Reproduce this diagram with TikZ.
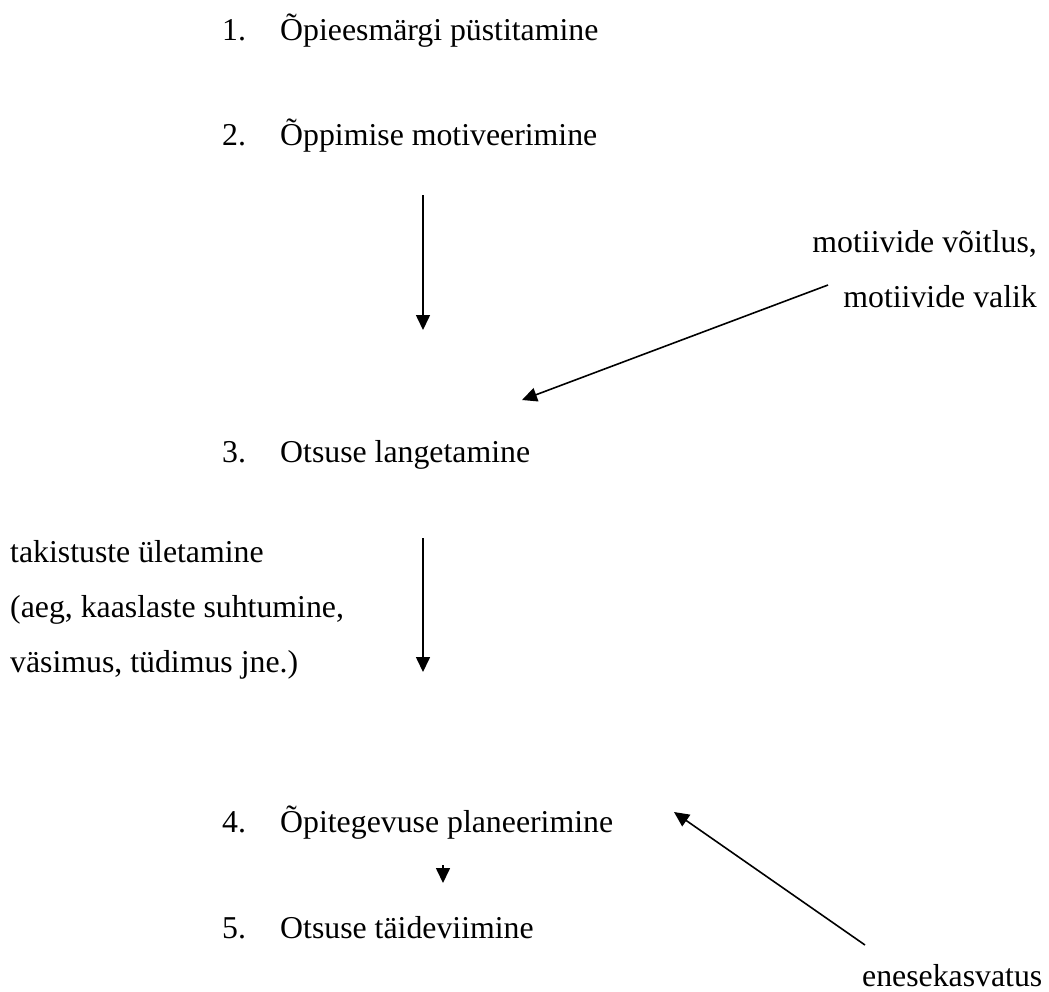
\documentclass[tikz,border=0pt]{standalone}
\usepackage{fontspec}
\setmainfont{Liberation Serif}
\usetikzlibrary{arrows.meta}

\begin{document}
\begin{tikzpicture}[x=1pt,y=-1pt,>={Triangle[length=15pt,width=14pt]},
  item/.style={anchor=base west,inner sep=0pt,font=\fontsize{31.8}{55}\selectfont},
  note/.style={inner sep=0pt,font=\fontsize{31.8}{55}\selectfont},
  arr/.style={->,line width=1.6pt}]

\useasboundingbox (0,0) rectangle (1049,991);

%--------------------
% sammud
%--------------------
\node[item] (n1) at (222,40) {1.};
\node[item] (s1) at (280,40) {Õpieesmärgi püstitamine};

\node[item] (n2) at (222,145) {2.};
\node[item] (s2) at (280,145) {Õppimise motiveerimine};

\node[item] (n3) at (222,462) {3.};
\node[item] (s3) at (280,462) {Otsuse langetamine};

\node[item] (n4) at (222,832) {4.};
\node[item] (s4) at (280,832) {Õpitegevuse planeerimine};

\node[item] (n5) at (222,938) {5.};
\node[item] (s5) at (280,938) {Otsuse täideviimine};

%--------------------
% märkused (alus = viimase rea joon)
%--------------------
\node[note,anchor=base east,align=right] (valik) at (1037,307)
  {motiivide võitlus,\\motiivide valik};

\node[note,anchor=base west,align=left] (takistus) at (10,672)
  {takistuste ületamine\\(aeg, kaaslaste suhtumine,\\väsimus, tüdimus jne.)};

\node[note,anchor=base west] (kasvatus) at (862,986) {enesekasvatus};

%--------------------
% nooled
%--------------------
\coordinate (A1) at (423,195);
\coordinate (A2) at (423,330);
\draw[arr] (A1) -- (A2);

\coordinate (B1) at (828,285);
\coordinate (B2) at (522,400);
\draw[arr] (B1) -- (B2);

\coordinate (C1) at (423,538);
\coordinate (C2) at (423,672);
\draw[arr] (C1) -- (C2);

\coordinate (D1) at (443,865);
\coordinate (D2) at (443,883);
\draw[arr] (D1) -- (D2);

\coordinate (E1) at (865,945);
\coordinate (E2) at (674,812);
\draw[arr] (E1) -- (E2);

\end{tikzpicture}
\end{document}
